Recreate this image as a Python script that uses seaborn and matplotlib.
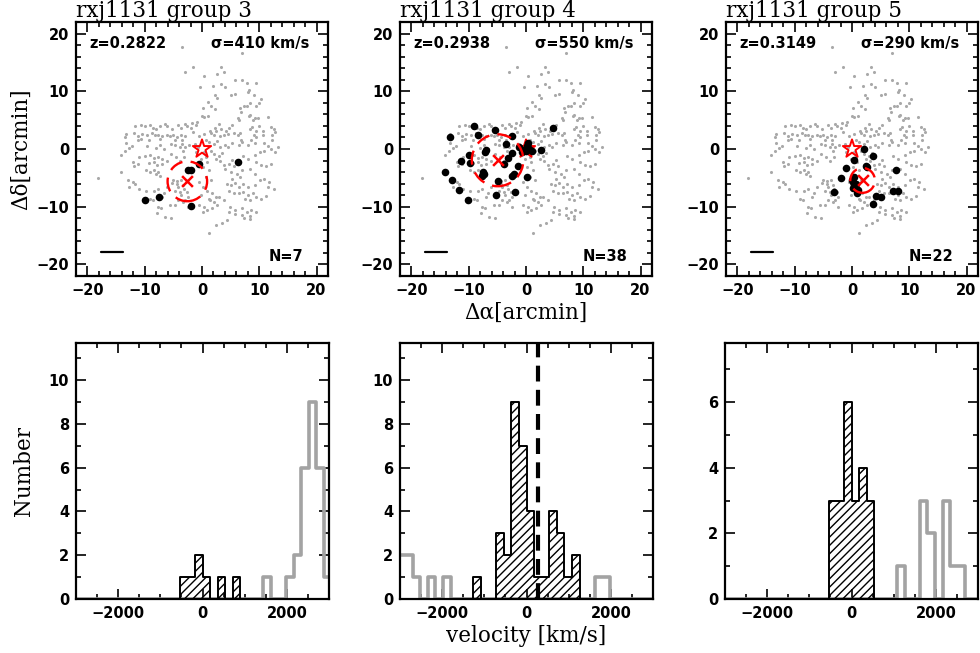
import numpy as np
import matplotlib
matplotlib.use('Agg')
import matplotlib.pyplot as plt
import seaborn as sea
from matplotlib.patches import Circle
from matplotlib.ticker import MultipleLocator

# ---- data ----
group_titles = ['rxj1131 group 3', 'rxj1131 group 4', 'rxj1131 group 5']
group_z = ['0.2822', '0.2938', '0.3149']
group_sigma = [410, 550, 290]
group_n = [7, 38, 22]

# group centre (red x) and radius of the dashed circle, arcmin
centre_x = [-2.56, -4.96, 1.85]
centre_y = [-5.6, -1.95, -5.44]
centre_r = [3.45, 4.5, 2.15]

# cluster centre (red star) and scale bar
star_x = [0.0]
star_y = [0.0]
scalebar_x = [-17.6, -13.8]
scalebar_y = [-17.8, -17.8]

# all spectroscopic galaxies in the field (grey dots)
bg_x = [-3.5, -3.0, -11.65, -10.7, -9.95, -9.0, -8.6, -8.1, -7.3, -6.4, -6.1, -5.3, -4.15, -3.7, -3.0, -2.6,
        -13.2, -13.5, -11.8, -11.2, -10.4, -9.55, -8.8, -8.25, -7.7, -7.0, -6.1, -5.6, -5.0, -4.4, -3.6, -2.9,
        -11.2, -10.7, -9.3, -7.3, -4.7, -3.5,
        7.0, -1.5, 0.3, 2.6, 3.9, 5.8, 7.0, 7.8, -0.3, 2.0, 3.4, 4.0, 8.2, 8.0, 5.1, 5.8, 2.3, 2.6, 9.1, 10.3,
        1.0, 1.5, 8.4, 9.9, 2.3, 6.7, 7.3, 7.8, 0.1, 9.5, 6.8, 0.0, 0.4, 1.1, 8.2, 8.4, 6.2, 6.5, 9.2, 9.7,
        8.9, 11.6, -1.7, -0.9, -1.1, 3.0, 5.3, 2.2, 1.4, 2.5, 3.4, 4.7, 4.2, 8.7, 8.4, 10.0, 10.6, 9.4, 12.0, 12.6,
        12.7, -1.9, -1.6, 0.4, 1.5, 2.1, 3.8, 4.5, 5.5, 6.2, 6.6, 9.1, 9.5, 10.6, 12.2, 12.3, -0.6, 0.7, 3.1, 6.8,
        8.6, 3.4, 9.5,
        -13.35, -12.3, -12.7, -9.55, -8.1, -7.3, -6.7, -5.4, -4.7, -3.9, -3.5, -2.9, -2.3, -13.5, -14.1, -11.0, -9.95, -9.0, -8.4, -7.7,
        -7.0, -6.1, -8.4, -7.8, -7.0, -9.3, -12.1, -11.25, -11.8, -5.4, -4.6, -3.1, -3.3, -3.9, -9.8, -9.0, -8.1, -7.6, -8.4, -7.3,
        -14.1, -18.1, -13.0, -12.1, -11.65, -12.7, -11.0, -9.8, -8.4, -7.7, -6.7, -7.0, -6.1, -5.2, -4.4, -3.7, -4.7, -3.9, -3.1, -9.15,
        -8.6, -7.6, -7.1, -7.8, -5.6, -4.7, -6.4, -5.4, -3.0, -2.45, -5.0, -4.4, -4.15, -3.3, -3.6, -2.7, -2.45, -4.15, -3.3,
        1.25, 2.1, 2.7, 3.2, 4.1, 4.5, 5.2, 6.4, 7.0, 8.0, 9.2, 10.9, 11.5, 12.0, 13.2, 12.8,
        1.5, 2.1, 2.95, 3.5, 2.4, 3.2, 3.8, 4.65, 5.2, 5.5, 4.1, 5.0,
        7.2, 8.05, 9.2, 10.05, 10.9, 9.5, 10.3, 11.2, 12.0, 8.35, 6.9, 9.2,
        6.1, 6.6, 5.2, 4.4, 5.1, 5.8, 6.4, 7.2, 8.0, 9.2, 10.05, 10.9, 11.75, 11.5, 12.6,
        4.65, 5.5, 6.4, 7.2, 8.05, 8.9, 7.5, 8.35, 9.5, 10.3, 11.2,
        2.95, 3.8, 2.1, 1.4, 2.7, -0.46, 0.4, 0.96, 1.8, 0.1,
        4.95, 5.8, 6.9, 7.8, 8.6, 9.5, 8.35, 6.9, 5.8, 4.65,
        3.5, 2.4, 1.25, 4.4, 8.35, 7.4,
        -1.3, -0.74, -1.0, 0.4, 0.68, -0.17, 0.96, 0.1, 1.25, 0.68, -0.46, 1.5, 0.1, 0.96, 1.8, -0.17, 1.25, 2.4]
bg_y = [17.6, 13.4, 4.0, 4.2, 4.0, 4.1, 3.7, 3.5, 3.9, 4.3, 4.0, 3.4, 4.2, 3.7, 4.3, 4.0,
        2.6, 2.0, 2.7, 2.3, 2.6, 2.4, 2.7, 2.5, 2.4, 2.3, 2.4, 2.2, 2.4, 2.0, 2.4, 2.3,
        1.6, 1.7, 1.6, 1.7, 1.6, 1.6,
        16.7, 14.2, 12.6, 13.0, 13.3, 12.0, 11.9, 11.4, 10.7, 11.0, 11.3, 10.7, 10.3, 9.9, 9.3, 9.6, 9.4, 8.9, 9.4, 8.7,
        8.1, 7.5, 8.0, 7.9, 7.0, 7.1, 7.4, 7.4, 7.1, 7.4, 6.4, 5.8, 5.6, 5.7, 5.8, 5.9, 5.3, 5.1, 5.4, 5.3,
        5.0, 5.6, 4.5, 4.7, 4.2, 4.3, 4.2, 3.7, 3.2, 3.1, 3.4, 3.6, 3.1, 3.8, 3.4, 3.9, 3.1, 3.1, 3.8, 3.5,
        3.0, 3.7, 2.9, 2.6, 2.7, 2.4, 2.4, 2.6, 2.7, 2.4, 2.7, 2.4, 2.0, 2.4, 2.4, 1.6, 2.3, 1.6, 2.3, 1.6,
        1.6, 14.2, 11.4,
        0.96, 0.56, 0.16, 0.56, 0.16, 0.73, 0.0, 0.85, 0.73, 0.39, 0.85, 0.28, 0.73, -0.4, -1.0, -1.44, -1.15, -0.98, -1.55, -1.32,
        -1.7, -2.0, -2.3, -2.7, -2.6, -2.5, -2.3, -2.6, -3.0, -0.87, -1.3, -1.3, -0.3, -2.0, -3.6, -4.0, -4.3, -4.0, -3.6, -4.6,
        -4.0, -5.0, -5.3, -5.7, -6.1, -6.5, -6.9, -7.2, -7.2, -6.9, -7.7, -8.4, -6.5, -5.9, -5.6, -5.3, -7.2, -7.4, -7.0, -8.6,
        -8.8, -10.0, -10.3, -11.0, -9.7, -9.7, -11.7, -12.0, -8.9, -10.0, -5.4, -6.0, -6.6, -6.3, -8.0, -7.4, -8.3, -8.9, -9.2,
        1.13, 0.85, 1.3, 0.39, 0.73, 0.28, 0.96, 0.73, 1.13, 0.73, 0.96, 0.96, 0.56, 0.0, 0.28, -0.6,
        -0.3, -0.87, -1.15, -0.75, -1.7, -2.0, -2.7, -2.6, -1.9, -2.9, -3.4, -4.0,
        -1.15, -1.7, -1.0, -0.6, -0.3, -2.3, -2.7, -2.9, -2.6, -3.4, -3.7, -4.3,
        -4.3, -4.9, -5.2, -6.0, -6.3, -5.9, -6.6, -6.0, -6.6, -6.3, -5.4, -5.2, -5.7, -6.6, -6.9,
        -7.2, -7.6, -7.7, -7.4, -8.0, -7.7, -8.6, -8.9, -8.3, -8.6, -8.2,
        -8.3, -8.9, -9.2, -8.8, -9.7, -9.7, -10.0, -10.6, -10.3, -10.9,
        -10.0, -10.6, -10.3, -10.9, -10.6, -10.9, -11.6, -11.4, -11.3, -10.9,
        -12.9, -13.2, -14.6, -12.3, -12.2, -12.0,
        0.85, 0.28, -0.58, -0.58, -1.44, -1.7, -2.3, -3.15, -3.7, -4.9, -5.7, -5.4, -6.6, -7.2, -7.7, -8.0, -8.6, -8.3]

# group members (black dots)
g3_x = [-0.6, -2.4, -1.9, 6.2, -7.5, -9.95, -2.0]
g3_y = [-2.6, -3.7, -3.7, -2.2, -8.4, -8.9, -9.9]
g4_x = [-9.05, -13.3, -8.4, -5.5, -2.5, -3.5, -6.95, -7.1, -9.9, -11.3, -9.8, -2.4, -3.1, -3.9, -1.4, -7.5,
        -7.35, -7.6, -14.2, -13.0, -2.5, -2.1, -4.96, 0.15, -11.7, -10.2, -5.25, -1.9, -1.16, -0.42, 0.03, 0.43,
        0.55, 0.15, 1.0, 2.7, -0.7, 4.7]
g4_y = [4.0, 2.0, 2.45, 3.3, 2.2, 0.85, -0.18, -0.6, -1.0, -2.1, -2.4, -0.75, -1.55, -2.58, -2.86, -3.9,
        -4.3, -4.6, -4.0, -5.3, -4.6, -4.4, -5.6, -4.9, -7.15, -8.9, -8.0, -7.4, 0.28, -0.18, -0.4, 0.97,
        0.0, 0.57, -0.3, -0.12, -0.58, 3.7]
g5_x = [2.1, 3.7, 0.4, 2.5, 2.67, -1.02, 7.6, -1.99, 0.4, 0.23, 0.68, 0.4, 0.11, 0.85, -3.1, 4.26, 5.1, 3.6,
        7.1, 7.95, 0.0, 1.08]
g5_y = [0.0, -1.15, -1.84, -2.9, -3.15, -3.3, -3.6, -5.0, -4.9, -5.7, -6.0, -6.3, -6.76, -7.7, -7.4, -8.2,
        -8.4, -9.6, -7.3, -7.3, -5.3, -7.15]

# velocity histograms: 180 km/s bins starting at -3060 km/s
bin_start = -3060
bin_width = 180
g3_members = [0, 0, 0, 0, 0, 0, 0, 0, 0, 0, 0, 0, 0, 0, 1, 1, 2, 1, 0, 1, 0, 1, 0, 0, 0, 0, 0, 0, 0, 0, 0, 0, 0, 0]
g3_others = [0, 0, 0, 0, 0, 0, 0, 0, 0, 0, 0, 0, 0, 0, 0, 0, 0, 0, 0, 0, 0, 0, 0, 0, 0, 1, 0, 0, 1, 2, 6, 9, 6, 1]
g4_members = [0, 0, 0, 0, 0, 0, 0, 0, 0, 0, 1, 0, 0, 3, 2, 9, 7, 4, 1, 1, 4, 3, 1, 2, 0, 0, 0, 0, 0, 0, 0, 0, 0, 0]
g4_others = [2, 2, 1, 0, 1, 0, 1, 0, 0, 0, 0, 0, 0, 0, 0, 0, 0, 0, 0, 0, 0, 0, 0, 0, 0, 0, 1, 1, 0, 0, 0, 0, 0, 0]
g5_members = [0, 0, 0, 0, 0, 0, 0, 0, 0, 0, 0, 0, 0, 0, 3, 3, 6, 3, 4, 3, 0, 0, 0, 0, 0, 0, 0, 0, 0, 0, 0, 0, 0, 0]
g5_others = [0, 0, 0, 0, 0, 0, 0, 0, 0, 0, 0, 0, 0, 0, 0, 0, 0, 0, 0, 0, 0, 0, 0, 1, 0, 0, 3, 2, 0, 3, 1, 1, 0, 0]
hist_ymax = [11.7, 11.7, 7.8]
g4_vline = 276

# ---- style ----
sea.set_style('ticks')
plt.rcParams['font.family'] = ['DejaVu Sans']
plt.rcParams['font.weight'] = 'bold'
plt.rcParams['text.color'] = 'black'
plt.rcParams['axes.labelcolor'] = 'black'
plt.rcParams['xtick.color'] = 'black'
plt.rcParams['ytick.color'] = 'black'
plt.rcParams['hatch.linewidth'] = 1.0
plt.rcParams['hatch.color'] = 'black'
serif = dict(family='DejaVu Serif', weight='normal')

W, H = 980, 653
fig = plt.figure(figsize=(9.8, 6.53), dpi=100)


def px_axes(left, top, width, height):
    return fig.add_axes([left / W, 1 - (top + height) / H, width / W, height / H])


def style_axes(ax, major, minor):
    ax.xaxis.set_major_locator(MultipleLocator(major[0]))
    ax.xaxis.set_minor_locator(MultipleLocator(minor[0]))
    ax.yaxis.set_major_locator(MultipleLocator(major[1]))
    ax.yaxis.set_minor_locator(MultipleLocator(minor[1]))
    ax.tick_params(which='both', direction='in', top=True, right=True, labelsize=10.5, width=1.2,
                   color='black', labelcolor='black')
    ax.tick_params(which='major', length=7, pad=5)
    ax.tick_params(which='minor', length=3.5)
    for sp in ax.spines.values():
        sp.set_linewidth(1.6)
        sp.set_color('black')
    ax.set_xlabel('')
    ax.set_ylabel('')


members_xy = [(g3_x, g3_y), (g4_x, g4_y), (g5_x, g5_y)]
hist_sets = [(g3_members, g3_others), (g4_members, g4_others), (g5_members, g5_others)]
vel_edges = bin_start + bin_width * np.arange(len(g3_members) + 1)
vel_centres = vel_edges[:-1] + bin_width / 2
edge_list = [float(e) for e in vel_edges]

top_lefts = [76, 400, 726]
bot_lefts = [76, 400, 725]

for i in range(3):
    # sky positions
    ax = px_axes(top_lefts[i], 22, 252, 254)
    sea.scatterplot(x=bg_x, y=bg_y, color='#a9a9a9', s=5, linewidth=0, ax=ax, zorder=1)
    sea.scatterplot(x=star_x, y=star_y, marker='*', s=190, facecolor='none', edgecolor='red',
                    linewidth=1.4, ax=ax, zorder=2.5)
    mx, my = members_xy[i]
    sea.scatterplot(x=mx, y=my, color='black', s=30, linewidth=0, ax=ax, zorder=3)
    ax.add_patch(Circle((centre_x[i], centre_y[i]), centre_r[i], fill=False, edgecolor='red',
                        lw=1.7, ls=(0, (6, 3.5)), zorder=4))
    sea.scatterplot(x=[centre_x[i]], y=[centre_y[i]], marker='x', color='red', s=60,
                    linewidth=1.8, ax=ax, zorder=4)
    ax.plot(scalebar_x, scalebar_y, color='black', lw=1.6)
    ax.text(-19.6, 18.3, 'z=' + group_z[i], ha='left', va='center', fontsize=10.5)
    ax.text(18.7, 18.3, 'σ=%d km/s' % group_sigma[i], ha='right', va='center', fontsize=10.5)
    ax.text(17.7, -18.6, 'N=%d' % group_n[i], ha='right', va='center', fontsize=10.5)
    ax.set_xlim(-22, 22)
    ax.set_ylim(-22, 22)
    style_axes(ax, (10, 10), (2, 2))
    ax.set_title(group_titles[i], loc='left', fontsize=15.5, pad=3, **serif)
    if i == 0:
        ax.set_ylabel('Δδ[arcmin]', fontsize=15.5, labelpad=3, **serif)
    if i == 1:
        ax.set_xlabel('Δα[arcmin]', fontsize=15.5, labelpad=3, **serif)

    # velocity histograms
    ax = px_axes(bot_lefts[i], 343, 253, 256)
    members, others = hist_sets[i]
    sea.histplot(x=vel_centres, weights=others, bins=edge_list, element='step', fill=False,
                 color='#a3a3a3', linewidth=2.6, ax=ax)
    sea.histplot(x=vel_centres, weights=members, bins=edge_list, element='step', fill=True, ax=ax)
    poly = ax.collections[-1]
    poly.set_facecolor('none')
    poly.set_edgecolor('black')
    poly.set_hatch('////')
    poly.set_linewidth(1.4)
    poly.set_alpha(1)
    poly.set_zorder(2.2)
    if i == 1:
        ax.axvline(g4_vline, color='black', lw=3, ls=(0, (3.8, 2)), zorder=3)
    ax.set_xlim(-3000, 3000)
    ax.set_ylim(0, hist_ymax[i])
    style_axes(ax, (2000, 2), (500, 1))
    if i == 0:
        ax.set_ylabel('Number', fontsize=15.5, labelpad=10, **serif)
    if i == 1:
        ax.set_xlabel('velocity [km/s]', fontsize=15.5, labelpad=3, **serif)

plt.savefig('out.png', dpi=100)
